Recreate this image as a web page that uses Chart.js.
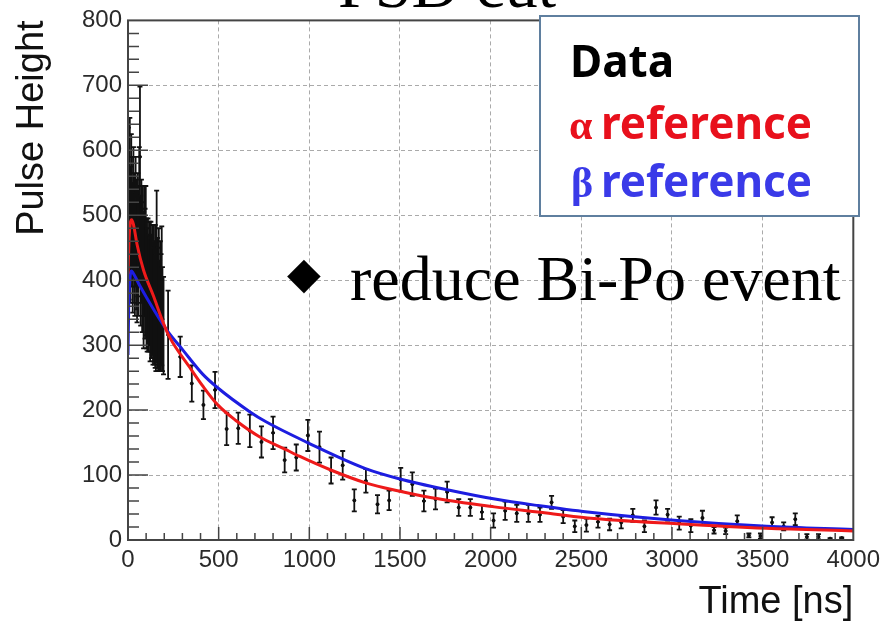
<!DOCTYPE html>
<html>
<head>
<meta charset="utf-8">
<script src="https://cdn.jsdelivr.net/npm/chart.js@4.4.1/dist/chart.umd.min.js"></script>
<style>
  html, body { margin: 0; padding: 0; background: #fff; }
  #wrap { width: 886px; height: 625px; }
</style>
</head>
<body>
<div id="wrap"><canvas id="chart" width="886" height="625"></canvas></div>
<script>
// measured points (time in ns, pulse height, symmetric error)
const dataTime = [2, 6, 10, 14, 18, 22, 26, 30, 34, 38, 42, 46, 50, 54, 58, 62, 66, 70, 74, 78, 82, 86, 90, 94, 98,
  102, 106, 110, 114, 118, 122, 126, 130, 134, 138, 142, 146, 150, 154, 158, 162, 166, 170, 174, 178, 182, 186, 190, 196,
  221, 288, 352, 416, 480, 544, 608, 672, 736, 800, 864, 928, 992, 1056, 1120, 1184, 1248, 1312, 1376, 1440,
  1504, 1568, 1632, 1696, 1760, 1824, 1888, 1952, 2016, 2080, 2144, 2208, 2272, 2336, 2400, 2464, 2528, 2592, 2656,
  2720, 2784, 2848, 2912, 2976, 3040, 3104, 3168, 3232, 3296, 3360, 3424, 3488, 3552, 3616, 3680, 3744, 3808, 3872, 3936];
const dataHeight = [520, 480, 545, 470, 515, 490, 450, 505, 465, 440, 490, 455, 430, 470, 445, 500, 590, 430, 460, 420, 445, 400, 445, 410, 430,
  395, 385, 405, 380, 395, 370, 390, 375, 385, 360, 380, 365, 375, 350, 406, 365, 355, 370, 345, 360, 350, 376, 340, 330,
  316, 282, 241, 208, 231, 171, 172, 168, 151, 165, 123, 127, 161, 143, 107, 115, 61, 91, 55, 61,
  93, 86, 60, 63, 74, 50, 50, 43, 30, 45, 41, 41, 39, 58, 36, 21, 23, 28, 24,
  27, 38, 21, 50, 39, 26, 22, 34, 15, 14, 29, 7, 6, 27, 21, 32, 5, 5, 2, 3];
const dataErr = [115, 110, 105, 105, 110, 100, 100, 100, 100, 95, 100, 100, 95, 95, 100, 105, 108, 100, 95, 100, 100, 105, 100, 100, 115,
  100, 95, 90, 90, 95, 95, 100, 95, 100, 90, 105, 95, 110, 90, 132, 100, 95, 110, 85, 100, 90, 107, 80, 75,
  68, 31, 28, 22, 28, 25, 24, 25, 24, 25, 19, 20, 24, 24, 20, 22, 17, 18, 14, 15,
  18, 18, 16, 16, 16, 13, 13, 11, 11, 14, 13, 13, 11, 10, 10, 9, 10, 9, 9,
  9, 10, 9, 11, 9, 10, 10, 11, 5, 5, 9, 3, 4, 8, 6, 9, 4, 4, 1, 1];

// reference pulse shapes
const alphaTime = [0, 6, 12, 20, 30, 50, 85, 140, 195, 230, 340, 415, 495, 595, 725, 865, 945, 1125, 1310, 1500, 1675, 2020, 2260, 2535, 3030, 3520, 4000];
const alphaHeight = [410, 465, 487, 493, 486, 455, 416, 376, 334, 312, 266, 236, 208, 184, 159, 140, 129, 107, 88, 75, 65, 51, 43, 34, 25, 18, 14];
const betaTime = [0, 4, 10, 20, 26, 66, 139, 212, 304, 413, 496, 669, 761, 990, 1310, 1500, 1767, 2023, 2261, 2535, 3029, 3523, 4000];
const betaHeight = [285, 360, 400, 414, 412, 391, 356, 324, 292, 255, 234, 198, 182, 150, 110, 94, 77, 63, 53, 43, 30, 21, 16];

const xTickLabels = ['0', '500', '1000', '1500', '2000', '2500', '3000', '3500', '4000'];
const yTickLabels = ['0', '100', '200', '300', '400', '500', '600', '700', '800'];

const RED = '#ee1a1a';
const BLUE = '#1d1de0';

const errorBars = {
  id: 'errorBars',
  afterDatasetDraw(chart, args) {
    if (args.index !== 0) return;
    const { ctx, chartArea: a, scales: { x, y } } = chart;
    ctx.save();
    ctx.beginPath();
    ctx.rect(a.left, a.top, a.right - a.left, a.bottom - a.top);
    ctx.clip();
    ctx.strokeStyle = '#111';
    ctx.lineWidth = 1.8;
    dataTime.forEach((t, i) => {
      const px = x.getPixelForValue(t);
      const top = y.getPixelForValue(dataHeight[i] + dataErr[i]);
      const bot = y.getPixelForValue(Math.max(0, dataHeight[i] - dataErr[i]));
      ctx.beginPath();
      ctx.moveTo(px, top); ctx.lineTo(px, bot);
      ctx.moveTo(px - 2.5, top); ctx.lineTo(px + 2.5, top);
      ctx.moveTo(px - 2.5, bot); ctx.lineTo(px + 2.5, bot);
      ctx.stroke();
    });
    ctx.restore();
  }
};

// ROOT style frame with inner ticks
const frame = {
  id: 'frame',
  afterDatasetsDraw(chart) {
    const { ctx, chartArea: a, scales: { x, y } } = chart;
    ctx.save();
    ctx.strokeStyle = '#444';
    ctx.lineWidth = 1.5;
    ctx.beginPath();
    for (let v = 100; v < 4000; v += 100) {
      const px = x.getPixelForValue(v);
      const len = v % 500 === 0 ? 13 : 7;
      ctx.moveTo(px, a.bottom); ctx.lineTo(px, a.bottom - len);
    }
    for (let v = 20; v < 800; v += 20) {
      const py = y.getPixelForValue(v);
      const len = v % 100 === 0 ? 20 : 11;
      ctx.moveTo(a.left, py); ctx.lineTo(a.left + len, py);
    }
    ctx.stroke();
    ctx.lineWidth = 2;
    ctx.strokeRect(a.left, a.top, a.right - a.left, a.bottom - a.top);
    ctx.restore();
  }
};

const annotations = {
  id: 'annotations',
  afterDraw(chart) {
    const { ctx } = chart;
    ctx.save();
    ctx.textAlign = 'left';
    ctx.textBaseline = 'alphabetic';

    // slide title, mostly cut off at the top
    ctx.fillStyle = '#000';
    ctx.font = '66px "Liberation Serif", serif';
    ctx.fillText('PSD cut', 338, 7);

    // legend box
    ctx.fillStyle = '#fff';
    ctx.fillRect(540, 16, 319, 200);
    ctx.strokeStyle = '#5f7f9f';
    ctx.lineWidth = 2;
    ctx.strokeRect(540, 16, 319, 200);

    ctx.fillStyle = '#000';
    ctx.font = 'bold 44px "Noto Sans", sans-serif';
    ctx.fillText('Data', 570, 77);

    ctx.fillStyle = '#e8101c';
    ctx.font = 'bold 42px "Liberation Serif", serif';
    ctx.fillText('α', 569, 139);
    ctx.font = 'bold 44px "Noto Sans", sans-serif';
    ctx.fillText('reference', 601, 139);

    ctx.fillStyle = '#3a3ae8';
    ctx.font = 'bold 42px "Liberation Serif", serif';
    ctx.fillText('β', 571, 197);
    ctx.font = 'bold 44px "Noto Sans", sans-serif';
    ctx.fillText('reference', 601, 197);

    // bullet note
    ctx.fillStyle = '#000';
    ctx.font = '44px "DejaVu Sans", sans-serif';
    ctx.textAlign = 'center';
    ctx.textBaseline = 'middle';
    ctx.fillText('◆', 304, 277);
    ctx.textAlign = 'left';
    ctx.textBaseline = 'alphabetic';
    ctx.font = '64px "Liberation Serif", serif';
    ctx.fillText('reduce Bi-Po event', 350, 300);
    ctx.restore();
  }
};

const tickFont = { family: '"Liberation Sans", Arial, sans-serif', size: 24 };
const titleFont = { family: '"Liberation Sans", Arial, sans-serif', size: 38 };

new Chart(document.getElementById('chart').getContext('2d'), {
  type: 'scatter',
  data: {
    datasets: [
      {
        label: 'Data',
        data: dataTime.map((t, i) => ({ x: t, y: dataHeight[i] })),
        backgroundColor: '#000',
        borderColor: '#000',
        pointRadius: 1.5,
        showLine: false,
        order: 3,
      },
      {
        label: 'α reference',
        data: alphaTime.map((t, i) => ({ x: t, y: alphaHeight[i] })),
        borderColor: RED,
        borderWidth: 3,
        pointRadius: 0,
        showLine: true,
        cubicInterpolationMode: 'monotone',
        order: 1,
      },
      {
        label: 'β reference',
        data: betaTime.map((t, i) => ({ x: t, y: betaHeight[i] })),
        borderColor: BLUE,
        borderWidth: 3,
        pointRadius: 0,
        showLine: true,
        cubicInterpolationMode: 'monotone',
        order: 2,
      },
    ]
  },
  options: {
    responsive: false,
    animation: false,
    layout: { padding: { left: 0, right: 29, top: 15, bottom: 0 } },
    plugins: { legend: { display: false }, tooltip: { enabled: false } },
    scales: {
      x: {
        type: 'linear',
        min: 0, max: 4000,
        afterFit: s => { s.height = 85; },
        ticks: {
          stepSize: 500,
          color: '#2a2a2a',
          font: tickFont,
          padding: 6,
          maxRotation: 0,
          callback: (v, i) => xTickLabels[i],
        },
        grid: { color: '#aaa', lineWidth: 1, drawTicks: false },
        border: { display: false, dash: [4, 3] },
        title: { display: true, text: 'Time [ns]', align: 'end', color: '#111', font: titleFont, padding: { top: 0, bottom: 0 } },
      },
      y: {
        min: 0, max: 800,
        afterFit: s => { s.width = 128; },
        ticks: {
          stepSize: 100,
          color: '#2a2a2a',
          font: tickFont,
          padding: 6,
          callback: (v, i) => yTickLabels[i],
        },
        grid: { color: '#aaa', lineWidth: 1, drawTicks: false },
        border: { display: false, dash: [4, 3] },
        title: { display: true, text: 'Pulse Height', align: 'end', color: '#111', font: titleFont, padding: { top: 10, bottom: 0 } },
      }
    }
  },
  plugins: [errorBars, frame, annotations],
});
</script>
</body>
</html>
